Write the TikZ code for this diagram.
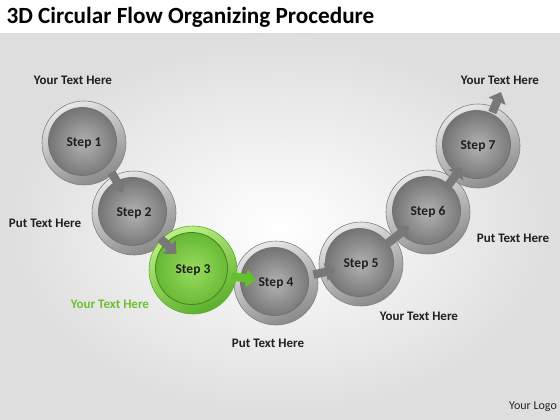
\documentclass[tikz,border=0pt]{standalone}
\usepackage{fontspec}
\setmainfont{Carlito}
\usetikzlibrary{arrows.meta,calc}
\definecolor{ringlight}{HTML}{E8E8E8}
\definecolor{ringdark}{HTML}{8A8A8A}
\definecolor{ballin}{HTML}{B2B2B2}
\definecolor{ballout}{HTML}{696969}
\definecolor{glight}{HTML}{BDF085}
\definecolor{gdark}{HTML}{5CAE2C}
\definecolor{gin}{HTML}{9ADC5E}
\definecolor{gout}{HTML}{5CB22C}
\definecolor{gtext}{HTML}{6CBF2E}
\definecolor{arrowgray}{HTML}{787878}
\definecolor{arrowgreen}{HTML}{62C02C}
\tikzset{
  ball/.style={circle, minimum size=84pt, inner sep=0pt, draw=black!50, line width=0.6pt,
    top color=ringlight, bottom color=ringdark, shading angle=25,
    path picture={\shade[inner color=ballin, outer color=ballout, draw=black!55, line width=0.8pt]
      ([xshift=-1.5pt,yshift=1.5pt]path picture bounding box.center) circle (34pt);},
    font=\bfseries\fontsize{13.5}{15}\selectfont, text=black!88},
  gball/.style={circle, minimum size=88pt, inner sep=0pt, draw=gdark, line width=0.6pt,
    top color=glight, bottom color=gdark, shading angle=25,
    path picture={\shade[inner color=gin, outer color=gout, draw=gdark!75!black, line width=0.8pt]
      ([xshift=-1.5pt,yshift=1.5pt]path picture bounding box.center) circle (36pt);},
    font=\bfseries\fontsize{13.5}{15}\selectfont, text=black!88},
  conn/.style={draw=arrowgray, line width=8.5pt, -{Triangle[length=10pt,width=18pt]}},
  gconn/.style={conn, draw=arrowgreen},
  lbl/.style={font=\bfseries\fontsize{13}{15}\selectfont, text=black!88},
}
\begin{document}
\begin{tikzpicture}[x=1pt,y=-1pt]
\useasboundingbox (0,0) rectangle (560,420);
\shade[inner color=white, outer color=black!13] (0,33) rectangle (560,420);
\fill[white] (0,0) rectangle (560,33);
\node[anchor=west, font=\bfseries\fontsize{23.2}{26}\selectfont] (title) at (3,17) {3D Circular Flow Organizing Procedure};

\node[ball] (s1) at (84,143) {Step 1};
\node[ball] (s2) at (134,213) {Step 2};
\node[ball] (s4) at (276,283) {Step 4};
\node[gball] (s3) at (193,270) {Step 3};
\node[ball] (s5) at (361,264) {Step 5};
\node[ball] (s6) at (428,212) {Step 6};
\node[ball] (s7) at (478,146) {Step 7};
\coordinate (end) at (501,92);

\draw[conn] ($(s1)!0.45!(s2)+(5,-2)$) -- ($(s1)!0.72!(s2)+(3,-1)$);
\draw[conn] ($(s2)!0.45!(s3)$) -- ($(s2)!0.72!(s3)$);
\draw[gconn] ($(s3)!0.47!(s4)$) -- ($(s3)!0.76!(s4)$);
\draw[conn] ($(s4)!0.44!(s5)$) -- ($(s4)!0.70!(s5)$);
\draw[conn] ($(s5)!0.40!(s6)$) -- ($(s5)!0.72!(s6)$);
\draw[conn] ($(s6)!0.36!(s7)$) -- ($(s6)!0.68!(s7)$);
\draw[conn] ($(s7)!0.62!(end)$) -- (end);

\node[lbl] (l1) at (73,80) {Your Text Here};
\node[lbl] (l2) at (45,223) {Put Text Here};
\node[lbl, text=gtext] (l3) at (110,304) {Your Text Here};
\node[lbl] (l4) at (268,343) {Put Text Here};
\node[lbl] (l5) at (419,316) {Your Text Here};
\node[lbl] (l6) at (513,238) {Put Text Here};
\node[lbl] (l7) at (500,80) {Your Text Here};
\node[font=\fontsize{12}{14}\selectfont, text=black!85] (logo) at (533,407) {Your Logo};
\end{tikzpicture}
\end{document}
